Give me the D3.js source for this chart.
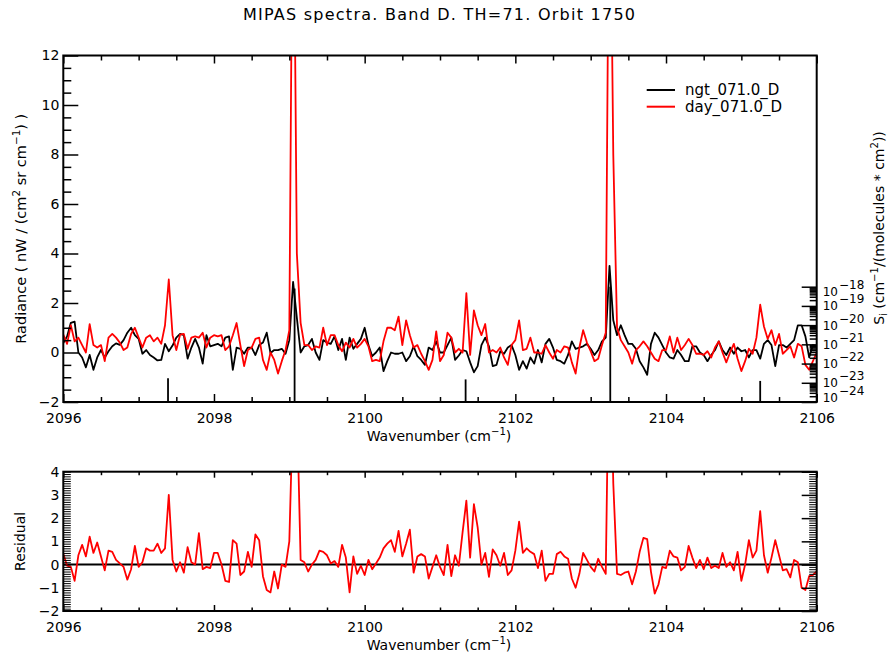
<!DOCTYPE html>
<html>
<head>
<meta charset="utf-8">
<script src="https://cdn.jsdelivr.net/npm/d3@7"></script>
<style>
  body { margin: 0; background: #fff; }
  text { font-family: "DejaVu Sans", "Liberation Sans", sans-serif; fill: #000; }
</style>
</head>
<body>
<svg id="chart" width="892" height="657"></svg>
<script>
// Spectral grid: 2096 – 2106 cm-1, 0.05 cm-1 sampling
const wnStart = 2096;
const wnStep = 0.05;

// Night-time spectrum, nW/(cm2 sr cm-1)
const ngt = [
  0.38,0.65,1.2,1.25,0.0,-0.2,-0.6,-0.1,-0.7,-0.2,
  0.1,-0.2,0.05,0.25,0.37,0.31,0.5,0.8,1.0,0.7,
  0.55,-0.05,0.1,-0.1,-0.2,-0.32,-0.3,0.35,0.05,0.28,
  0.6,0.75,0.7,-0.25,0.2,0.55,0.2,-0.45,0.7,0.25,
  0.3,0.35,0.25,0.6,0.65,-0.7,0.2,0.15,-0.05,0.2,
  0.2,-0.1,0.3,0.4,0.8,-0.02,0.1,0.1,0.15,-0.05,
  0.5,2.85,1.4,0.0,0.25,0.3,0.55,0.0,-0.3,0.5,
  0.4,0.35,0.65,0.1,0.55,-0.3,0.6,0.15,0.35,0.55,
  1.0,0.3,-0.15,0.0,0.2,-0.75,-0.35,0.0,-0.05,-0.05,
  0.0,-0.35,-0.15,0.25,-0.15,-0.3,-0.5,0.2,0.1,0.45,
  0.0,0.0,0.3,0.6,-0.3,-0.12,0.1,0.05,-0.4,-0.8,
  -0.55,0.3,0.6,0.25,-0.55,-0.5,0.05,-0.05,0.2,0.3,
  -0.1,-0.7,-0.35,-0.65,-0.2,-0.45,0.1,-0.4,0.35,0.55,
  0.2,-0.3,-0.35,-0.45,-0.1,0.45,0.15,0.2,0.25,0.35,
  0.15,-0.1,0.1,0.45,0.6,3.5,1.3,0.7,1.1,0.7,
  0.35,0.35,0.15,-0.35,-0.6,-0.9,0.35,0.8,0.6,0.3,
  0.0,-0.2,-0.25,0.1,-0.1,-0.35,-0.35,0.25,0.25,0.0,
  -0.1,-0.35,-0.1,0.1,0.45,0.1,-0.1,0.2,-0.05,0.2,
  0.05,0.1,-0.2,0.1,0.1,-0.25,0.35,0.5,0.3,-0.55,
  0.3,0.3,0.2,0.35,0.5,1.1,1.1,0.65,-0.2,0.3,
  0.25
];

// Day-time spectrum, nW/(cm2 sr cm-1)
const day = [
  0.72,0.35,1.1,0.45,0.6,0.3,0.0,1.15,0.3,0.2,
  0.3,-0.35,0.6,0.75,0.6,0.4,0.1,0.2,0.75,1.0,
  0.6,0.2,0.6,0.7,0.45,0.6,0.35,1.1,2.95,0.7,
  0.1,0.72,0.75,0.15,0.6,0.65,0.6,0.8,0.2,0.6,
  0.7,0.65,0.7,0.1,0.25,0.7,1.19,0.3,-0.55,0.1,
  0.2,0.55,0.6,-0.3,-0.7,0.0,-0.3,-0.85,-0.35,0.1,
  0.9,22,4,1.2,0.3,0.3,0.1,0.25,0.2,1.0,
  0.3,0.7,0.7,0.3,0.05,0.4,0.2,0.55,0.2,0.35,
  0.55,0.25,-0.35,-0.3,-0.35,0.45,1.0,1.0,0.9,1.45,
  0.3,1.3,0.7,0.2,0.3,-0.05,-0.35,-0.7,-0.3,0.85,
  -0.35,-0.1,0.8,0.6,0.0,0.15,0.0,2.4,-0.1,1.7,
  1.1,0.7,1.15,0.0,0.1,0.0,0.2,-0.2,-0.5,0.3,
  0.5,1.3,0.1,0.15,0.6,0.0,0.0,-0.05,0.3,0.0,
  -0.25,0.1,0.0,0.25,0.2,-0.4,-0.85,0.2,0.9,0.4,
  0.05,-0.35,-0.25,0.3,0.8,22,8,1.0,0.5,0.25,
  0.0,-0.45,0.1,0.25,0.45,0.25,0.0,-0.25,-0.35,0.1,
  0.1,0.65,0.0,0.6,0.1,0.3,0.55,0.3,-0.05,-0.05,
  -0.1,0.05,-0.2,0.2,0.45,0.0,-0.4,0.0,0.35,-0.25,
  -0.75,-0.35,0.15,-0.05,0.6,1.93,1.05,0.55,0.9,0.3,
  0.75,-0.05,0.1,0.25,-0.2,0.35,0.25,-0.5,-0.7,-0.35,
  0.0
];

// Residual (day minus night)
const residual = [
  0.47,-0.05,-0.1,-0.7,0.4,0.85,0.35,1.2,0.5,0.95,
  0.35,-0.25,0.6,0.55,0.2,0.05,-0.1,-0.65,-0.2,0.8,
  -0.1,0.1,0.7,0.6,0.6,0.9,0.5,0.7,3.0,0.2,
  -0.3,0.1,-0.35,0.75,0.1,0.0,1.35,-0.2,-0.1,-0.15,
  0.5,0.5,0.0,-0.7,-0.75,1.05,0.9,-0.45,-0.3,0.55,
  -0.1,1.3,1.05,-0.5,-1.1,-1.2,-0.3,-1.03,0.0,-0.1,
  1.0,7,7,0.2,0.1,-0.3,0.0,0.2,0.6,0.55,
  0.4,0.05,0.15,-0.1,0.85,0.3,-1.2,0.35,-0.4,-0.05,
  -0.45,0.2,-0.2,0.05,0.3,0.7,0.9,1.05,0.55,1.45,
  0.35,0.9,1.5,-0.35,0.35,0.45,0.35,-0.6,-0.1,0.4,
  -0.1,-0.45,0.85,-0.5,0.4,-0.05,1.4,2.75,0.3,2.6,
  1.6,0.0,0.5,-0.53,0.65,0.4,-0.05,0.5,-0.45,-0.25,
  0.6,1.85,0.5,0.7,0.55,0.45,-0.15,0.6,-0.7,-0.4,
  -0.4,0.45,0.55,0.35,0.25,-0.6,-1.0,-0.4,0.5,0.2,
  -0.1,-0.3,0.25,-0.1,-0.4,11,3.5,-0.4,-0.45,-0.35,
  -0.3,-0.85,-0.3,0.55,1.15,1.1,-0.3,-1.25,-0.85,-0.1,
  -0.15,0.6,0.35,0.3,-0.25,-0.1,0.8,0.3,-0.15,0.2,
  -0.2,0.3,-0.15,-0.05,-0.15,0.5,-0.1,0.1,-0.25,0.55,
  -0.7,0.0,1.05,0.3,0.6,2.3,0.4,-0.35,0.3,1.05,
  0.4,-0.25,-0.2,-0.55,0.2,0.1,-1.0,-1.1,-0.5,-0.45,
  -0.3
];

// Line positions and strengths S_i, cm-1/(molecules cm2)
const lineWn = [2097.39, 2099.07, 2101.34, 2103.26, 2105.25];
const lineStrength = [1.7e-23, 8e-19, 1.5e-23, 1e-18, 1.25e-23];

// Axis ticks and labels
const xTicks = [2096, 2098, 2100, 2102, 2104, 2106];
const radTicks = [-2, 0, 2, 4, 6, 8, 10, 12];
const resTicks = [-2, -1, 0, 1, 2, 3, 4];
const sExponents = [-18, -19, -20, -21, -22, -23, -24];
const seriesNames = ["ngt_071.0_D", "day_071.0_D"];
const seriesColors = ["#000000", "#ff0000"];

const wavenumber = ngt.map((_, i) => wnStart + i * wnStep);

const svg = d3.select("#chart");
const L = 63.3, R = 816.7;
const top1 = 55.5, bot1 = 402;
const top2 = 471.7, bot2 = 611;

const x = d3.scaleLinear().domain([2096, 2106]).range([L, R]);
const yRad = d3.scaleLinear().domain([-2, 12]).range([bot1, top1]);
const yS = d3.scaleLog().domain([1e-24, 1e-18]).range([bot1, 286.7]);
const yRes = d3.scaleLinear().domain([-2, 4]).range([bot2, top2]);

const minus = d => (d < 0 ? "\u2212" + Math.abs(d) : String(d));
const xMinor = d3.range(2096, 2106.001, 0.5).filter(v => Math.abs(v / 2 - Math.round(v / 2)) > 1e-6);

// Writes text made of plain, superscript and subscript pieces
function richText(sel, parts, size) {
  let shift = 0;
  parts.forEach(([s, kind]) => {
    const target = kind === "sup" ? -6 : kind === "sub" ? 3 : 0;
    const t = sel.append("tspan").text(s).attr("dy", target - shift);
    if (kind) t.attr("font-size", size * 0.72);
    shift = target;
  });
}

function styleAxis(g, fontSize) {
  g.select(".domain").remove();
  g.selectAll(".tick line").attr("stroke", "#000").attr("stroke-width", 1.5);
  g.selectAll(".tick text")
    .attr("font-family", "DejaVu Sans, sans-serif")
    .attr("font-size", fontSize)
    .attr("fill", "#000");
  g.attr("font-family", null).attr("font-size", null);
}

// Clip regions for each panel
const defs = svg.append("defs");
defs.append("clipPath").attr("id", "clipTop")
  .append("rect").attr("x", L).attr("y", top1).attr("width", R - L).attr("height", bot1 - top1);
defs.append("clipPath").attr("id", "clipBot")
  .append("rect").attr("x", L).attr("y", top2).attr("width", R - L).attr("height", bot2 - top2);

// Title
svg.append("text").attr("x", 439).attr("y", 20).attr("text-anchor", "middle")
  .attr("font-size", 16).attr("textLength", 392).attr("lengthAdjust", "spacing")
  .text("MIPAS spectra. Band D. TH=71. Orbit 1750");

// ---------- Upper panel: radiance ----------
const upper = svg.append("g");

// Line-strength sticks
upper.append("g").attr("clip-path", "url(#clipTop)")
  .selectAll("line").data(lineWn).join("line")
  .attr("x1", d => x(d)).attr("x2", d => x(d))
  .attr("y1", yS(1e-24)).attr("y2", (d, i) => yS(lineStrength[i]))
  .attr("stroke", "#000").attr("stroke-width", 1.8);

const lineRad = d3.line().x((d, i) => x(wavenumber[i])).y(d => yRad(d));
const specG = upper.append("g").attr("clip-path", "url(#clipTop)");
[ngt, day].forEach((s, j) => {
  specG.append("path").datum(s).attr("d", lineRad)
    .attr("fill", "none").attr("stroke", seriesColors[j])
    .attr("stroke-width", 1.8).attr("stroke-linejoin", "round");
});

// x axes (bottom with labels, top ticks only)
upper.append("g").attr("transform", `translate(0,${bot1})`)
  .call(d3.axisBottom(x).tickValues(xTicks).tickSize(-8).tickPadding(11).tickFormat(d3.format("d")))
  .call(g => styleAxis(g, 14));
upper.append("g").attr("transform", `translate(0,${bot1})`)
  .call(d3.axisBottom(x).tickValues(xMinor).tickSize(-5).tickFormat(""))
  .call(g => styleAxis(g, 14));
upper.append("g").attr("transform", `translate(0,${top1})`)
  .call(d3.axisTop(x).tickValues(xTicks).tickSize(-8).tickFormat(""))
  .call(g => styleAxis(g, 14));
upper.append("g").attr("transform", `translate(0,${top1})`)
  .call(d3.axisTop(x).tickValues(xMinor).tickSize(-5).tickFormat(""))
  .call(g => styleAxis(g, 14));

// left radiance axis
upper.append("g").attr("transform", `translate(${L},0)`)
  .call(d3.axisLeft(yRad).tickValues(radTicks).tickSize(-15).tickPadding(4).tickFormat(minus))
  .call(g => styleAxis(g, 14));
upper.append("g").attr("transform", `translate(${L},0)`)
  .call(d3.axisLeft(yRad).tickValues(d3.range(-2, 12.001, 0.5).filter(v => v % 2 !== 0)).tickSize(-8).tickFormat(""))
  .call(g => styleAxis(g, 14));

// right line-strength axis (log)
const decades = sExponents.map(e => Math.pow(10, e));
const sMinor = [];
for (let e = -24; e < -18; e++) for (let m = 2; m <= 9; m++) sMinor.push(m * Math.pow(10, e));
upper.append("g").attr("transform", `translate(${R},0)`)
  .call(d3.axisRight(yS).tickValues(decades).tickSize(-15).tickFormat(""))
  .call(g => styleAxis(g, 14));
upper.append("g").attr("transform", `translate(${R},0)`)
  .call(d3.axisRight(yS).tickValues(sMinor).tickSize(-7).tickFormat(""))
  .call(g => styleAxis(g, 14));
const sLab = upper.append("g");
sExponents.forEach(e => {
  const cy = Math.max(yS.range()[1] + 5, Math.min(yS.range()[0] - 5, yS(Math.pow(10, e))));
  const t = sLab.append("text").attr("x", R + 6).attr("y", cy + 4.5).attr("font-size", 12);
  t.append("tspan").text("10");
  t.append("tspan").attr("dy", -7).attr("dx", 1).attr("font-size", 12).text("\u2212" + Math.abs(e));
});

// panel frame
upper.append("rect").attr("x", L).attr("y", top1).attr("width", R - L).attr("height", bot1 - top1)
  .attr("fill", "none").attr("stroke", "#000").attr("stroke-width", 2);

// axis titles
richText(upper.append("text").attr("x", 439).attr("y", 441).attr("text-anchor", "middle").attr("font-size", 14),
  [["Wavenumber (cm"], ["\u22121", "sup"], [")"]], 14);
richText(upper.append("text").attr("transform", `translate(26,${(top1 + bot1) / 2}) rotate(-90)`)
  .attr("text-anchor", "middle").attr("font-size", 14.5),
  [["Radiance ( nW / (cm"], ["2", "sup"], [" sr cm"], ["\u22121", "sup"], [") )"]], 14.5);
richText(upper.append("text").attr("transform", `translate(884,228) rotate(-90)`)
  .attr("text-anchor", "middle").attr("font-size", 14),
  [["S"], ["i", "sub"], [" (cm"], ["\u22121", "sup"], ["/(molecules * cm"], ["2", "sup"], ["))"]], 14);

// legend
const leg = upper.append("g");
seriesNames.forEach((name, j) => {
  const ly = 90 + j * 16.7;
  leg.append("line").attr("x1", 646.7).attr("x2", 675).attr("y1", ly).attr("y2", ly)
    .attr("stroke", seriesColors[j]).attr("stroke-width", 2);
  leg.append("text").attr("x", 685).attr("y", ly + 5).attr("font-size", 15).text(name);
});

// ---------- Lower panel: residual ----------
const lower = svg.append("g");
lower.append("line").attr("x1", L).attr("x2", R).attr("y1", yRes(0)).attr("y2", yRes(0))
  .attr("stroke", "#000").attr("stroke-width", 2);
lower.append("g").attr("clip-path", "url(#clipBot)")
  .append("path").datum(residual)
  .attr("d", d3.line().x((d, i) => x(wavenumber[i])).y(d => yRes(d)))
  .attr("fill", "none").attr("stroke", "#ff0000").attr("stroke-width", 1.8).attr("stroke-linejoin", "round");

lower.append("g").attr("transform", `translate(0,${bot2})`)
  .call(d3.axisBottom(x).tickValues(xTicks).tickSize(-6).tickPadding(11).tickFormat(d3.format("d")))
  .call(g => styleAxis(g, 14));
lower.append("g").attr("transform", `translate(0,${bot2})`)
  .call(d3.axisBottom(x).tickValues(xMinor).tickSize(-3.5).tickFormat(""))
  .call(g => styleAxis(g, 14));
lower.append("g").attr("transform", `translate(0,${top2})`)
  .call(d3.axisTop(x).tickValues(xTicks).tickSize(-6).tickFormat(""))
  .call(g => styleAxis(g, 14));
lower.append("g").attr("transform", `translate(0,${top2})`)
  .call(d3.axisTop(x).tickValues(xMinor).tickSize(-3.5).tickFormat(""))
  .call(g => styleAxis(g, 14));

const resMinor = d3.range(-2, 4.001, 0.1);
lower.append("g").attr("transform", `translate(${L},0)`)
  .call(d3.axisLeft(yRes).tickValues(resTicks).tickSize(0).tickPadding(4).tickFormat(minus))
  .call(g => styleAxis(g, 14));
lower.append("g").attr("transform", `translate(${L},0)`)
  .call(d3.axisLeft(yRes).tickValues(resMinor).tickSize(-7.5).tickFormat(""))
  .call(g => styleAxis(g, 14))
  .call(g => g.selectAll(".tick line").attr("stroke-width", 1));
lower.append("g").attr("transform", `translate(${R},0)`)
  .call(d3.axisRight(yRes).tickValues(resTicks).tickSize(-15).tickFormat(""))
  .call(g => styleAxis(g, 14));
lower.append("g").attr("transform", `translate(${R},0)`)
  .call(d3.axisRight(yRes).tickValues(resMinor).tickSize(-7.5).tickFormat(""))
  .call(g => styleAxis(g, 14))
  .call(g => g.selectAll(".tick line").attr("stroke-width", 1));

lower.append("rect").attr("x", L).attr("y", top2).attr("width", R - L).attr("height", bot2 - top2)
  .attr("fill", "none").attr("stroke", "#000").attr("stroke-width", 2);

richText(lower.append("text").attr("x", 439).attr("y", 650).attr("text-anchor", "middle").attr("font-size", 14),
  [["Wavenumber (cm"], ["\u22121", "sup"], [")"]], 14);
lower.append("text").attr("transform", `translate(25,${(top2 + bot2) / 2}) rotate(-90)`)
  .attr("text-anchor", "middle").attr("font-size", 14).text("Residual");
</script>
</body>
</html>
